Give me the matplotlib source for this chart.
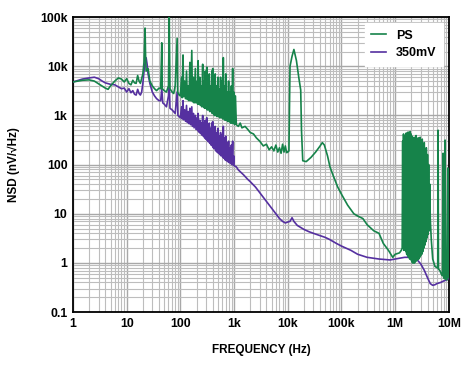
import numpy as np
import matplotlib.pyplot as plt
from matplotlib.ticker import LogLocator, FixedLocator, FixedFormatter

# PS curve, (Hz, nV/rtHz)
ps_points = [
    (1, 4800), (1.5, 5200), (2, 5300), (2.5, 5000), (3, 4400), (4, 3600), (4.5, 3400),
    (5, 4000), (6, 5000), (7, 5800), (8, 5500), (9, 4800), (10, 5600), (11, 4500),
    (12, 4200), (13, 5200), (14, 4600), (15, 4500), (16, 6500), (17, 5000), (18, 4500),
    (20, 7000), (21, 12000), (22, 60000), (22.5, 15000), (23, 8000), (25, 9000),
    (27, 5000), (30, 4000), (33, 3500), (36, 3200), (40, 3600), (43, 3500),
    (45, 30000), (46, 3500), (50, 3200), (55, 3000), (60, 4000), (62, 100000),
    (64, 3500), (70, 3000), (75, 2800), (80, 4000), (87, 37000), (89, 3000),
    (95, 2600),
    (100, 2500), (105, 6000), (108, 2300), (112, 17000), (115, 2400), (120, 5000),
    (125, 2200), (130, 8000), (135, 2100), (140, 4000), (145, 2000), (150, 12000),
    (155, 2000), (163, 21000), (168, 1900), (175, 6000), (180, 1800), (190, 9000),
    (195, 1800), (205, 5000), (210, 1700), (214, 13000), (220, 1700), (230, 6000),
    (236, 1600), (245, 4000), (250, 1500), (260, 11000), (266, 1500), (275, 5000),
    (282, 1400), (290, 8000), (296, 1400), (310, 9600), (316, 1300), (325, 6000),
    (332, 1300), (345, 7000), (352, 1200), (365, 4000), (372, 1200), (385, 8000),
    (392, 1100), (400, 9000), (410, 1100), (420, 5000), (430, 1000), (445, 7000),
    (455, 1000), (470, 4000), (480, 950), (500, 6000), (510, 950), (530, 3500),
    (540, 900), (560, 6000), (575, 900), (600, 5000), (615, 850), (630, 15000),
    (645, 850), (665, 4000), (680, 800), (700, 7000), (720, 800), (745, 3000),
    (760, 750), (790, 5000), (810, 750), (840, 3000), (860, 700), (890, 4000),
    (910, 700), (940, 9000), (960, 700), (990, 3000), (1020, 650), (1060, 2500),
    (1100, 650),
    (1200, 600), (1300, 700), (1400, 560), (1600, 600), (1800, 520), (2000, 450),
    (2300, 420), (2600, 350), (3000, 300), (3500, 240), (4000, 260), (4500, 200),
    (5000, 230), (5500, 190), (6000, 250), (6500, 180), (7000, 220), (7500, 170),
    (8000, 260), (8500, 180), (9000, 240), (9500, 175), (10000, 180), (10500, 190),
    (11000, 10000), (12000, 16000), (13000, 22000), (14500, 13000), (16000, 6000),
    (17400, 3300), (18000, 500), (19000, 120), (22000, 115), (27000, 140),
    (33000, 180), (40000, 240), (44000, 280), (48000, 250), (55000, 150),
    (61000, 90), (70000, 60), (85000, 35), (100e3, 25), (130e3, 15), (170e3, 10),
    (200e3, 9), (250e3, 8), (300e3, 6), (400e3, 4.5), (500e3, 4), (600e3, 2.5),
    (750e3, 1.8), (900e3, 1.3), (1.0e6, 1.5), (1.2e6, 1.6), (1.3e6, 1.8),
    (1.35e6, 2),
    (1.38e6, 300), (1.40e6, 2), (1.43e6, 420), (1.46e6, 1.8), (1.49e6, 380),
    (1.52e6, 2), (1.55e6, 150), (1.58e6, 1.7), (1.61e6, 440), (1.64e6, 1.5),
    (1.67e6, 350), (1.71e6, 1.4), (1.74e6, 460), (1.78e6, 1.3), (1.82e6, 400),
    (1.86e6, 1.2), (1.90e6, 470), (1.94e6, 1.2), (1.98e6, 420), (2.02e6, 1.1),
    (2.06e6, 380), (2.10e6, 1.0), (2.15e6, 330), (2.20e6, 1.0), (2.25e6, 360),
    (2.30e6, 1.0), (2.35e6, 300), (2.40e6, 1.1), (2.45e6, 390), (2.50e6, 1.1),
    (2.56e6, 280), (2.62e6, 1.2), (2.68e6, 350), (2.74e6, 1.2), (2.80e6, 300),
    (2.86e6, 1.3), (2.92e6, 360), (2.98e6, 1.4), (3.05e6, 260), (3.12e6, 1.5),
    (3.19e6, 330), (3.26e6, 1.7), (3.33e6, 230), (3.40e6, 2.0), (3.48e6, 280),
    (3.56e6, 2.3), (3.64e6, 200), (3.72e6, 2.7), (3.80e6, 220), (3.90e6, 3.2),
    (4.00e6, 160), (4.10e6, 3.8), (4.20e6, 100), (4.30e6, 4.5), (4.40e6, 40),
    (4.5e6, 8), (4.7e6, 3), (5.0e6, 1.2), (5.5e6, 0.85), (6.0e6, 0.8),
    (6.2e6, 0.8), (6.3e6, 500), (6.4e6, 0.75), (6.8e6, 0.7), (7.2e6, 0.6),
    (7.6e6, 0.55), (7.8e6, 170), (8.0e6, 0.5), (8.3e6, 0.48), (8.5e6, 315),
    (8.7e6, 0.47), (9.2e6, 0.45), (9.6e6, 85), (9.8e6, 0.5), (10e6, 0.55),
]

# 350mV curve
mv_points = [
    (1, 4800), (1.5, 5500), (2, 5800), (2.5, 6000), (3, 5600), (3.5, 5000), (4, 4600),
    (5, 4300), (6, 4200), (7, 3800), (8, 3500), (9, 3600), (10, 3000), (11, 3500),
    (12, 2900), (13, 3200), (14, 2700), (15, 2600), (16, 3400), (17, 2800),
    (18, 2600), (19, 3000), (20, 4500), (21, 8000), (22, 12000), (23, 15000),
    (24, 11000), (25, 7000), (27, 4500), (30, 3000), (33, 2500), (36, 2200),
    (40, 2000), (43, 2000), (45, 3500), (47, 1800), (50, 1700), (55, 1500),
    (60, 2500), (62, 5000), (64, 1400), (70, 1300), (80, 1100), (87, 3000),
    (90, 1000),
    (100, 900), (105, 1500), (108, 850), (112, 2000), (115, 820), (120, 1300),
    (125, 760), (130, 1600), (135, 720), (140, 1200), (145, 680), (150, 1400),
    (155, 650), (163, 1500), (168, 600), (175, 1100), (180, 560), (190, 1000),
    (195, 520), (205, 900), (210, 490), (214, 1100), (220, 460), (230, 800),
    (236, 430), (245, 700), (250, 400), (260, 1000), (266, 380), (275, 700),
    (282, 350), (290, 800), (296, 330), (310, 900), (316, 310), (325, 650),
    (332, 290), (345, 700), (352, 270), (365, 550), (372, 250), (385, 700),
    (392, 240), (400, 750), (410, 220), (420, 500), (430, 210), (445, 600),
    (455, 190), (470, 450), (480, 180), (500, 550), (510, 170), (530, 380),
    (540, 160), (560, 450), (575, 150), (600, 400), (615, 140), (630, 600),
    (645, 135), (665, 350), (680, 125), (700, 380), (720, 120), (745, 280),
    (760, 115), (790, 300), (810, 110), (840, 220), (860, 105), (890, 250),
    (910, 100), (940, 300), (960, 98), (990, 150), (1000, 95),
    (1100, 90), (1200, 78), (1500, 62), (1800, 50), (2000, 45), (2500, 35),
    (3000, 27), (4000, 18), (5000, 13), (6000, 10), (7000, 8), (8000, 7),
    (9000, 6.5), (10000, 6.8), (11000, 7), (12000, 8.3), (13000, 7), (15000, 5.8),
    (20000, 4.8), (25000, 4.3), (30000, 4.0), (40000, 3.6), (50000, 3.3),
    (60000, 3.0), (80000, 2.5), (100e3, 2.2), (150e3, 1.8), (200e3, 1.5),
    (300e3, 1.3), (500e3, 1.2), (800e3, 1.15), (1e6, 1.2), (1.5e6, 1.3),
    (2e6, 1.3), (2.5e6, 1.2), (3e6, 0.95), (3.5e6, 0.7), (4e6, 0.5), (4.5e6, 0.38),
    (5e6, 0.35), (5.5e6, 0.36), (6e6, 0.38), (7e6, 0.4), (8e6, 0.43), (9e6, 0.45),
    (10e6, 0.48),
]

ps_freq, ps_nsd = zip(*ps_points)
mv_freq, mv_nsd = zip(*mv_points)

x_ticks = [1, 10, 100, 1e3, 1e4, 1e5, 1e6, 1e7]
x_labels = ["1", "10", "100", "1k", "10k", "100k", "1M", "10M"]
y_ticks = [0.1, 1, 10, 100, 1e3, 1e4, 1e5]
y_labels = ["0.1", "1", "10", "100", "1k", "10k", "100k"]

green = "#16834a"
purple = "#5530a0"

plt.rcParams["font.family"] = ["Liberation Sans", "DejaVu Sans"]
plt.rcParams["font.weight"] = "bold"

fig = plt.figure(figsize=(4.74, 3.65), dpi=100)
ax = fig.add_axes([0.154, 0.145, 0.793, 0.808])

ax.plot(mv_freq, mv_nsd, color=purple, lw=1.2, label="350mV", zorder=3)
ax.plot(ps_freq, ps_nsd, color=green, lw=1.2, label="PS", zorder=4)

ax.set_xscale("log")
ax.set_yscale("log")
ax.set_xlim(1, 1e7)
ax.set_ylim(0.1, 1e5)

ax.xaxis.set_major_locator(FixedLocator(x_ticks))
ax.xaxis.set_major_formatter(FixedFormatter(x_labels))
ax.yaxis.set_major_locator(FixedLocator(y_ticks))
ax.yaxis.set_major_formatter(FixedFormatter(y_labels))
ax.xaxis.set_minor_locator(LogLocator(base=10, subs=np.arange(2, 10), numticks=20))
ax.yaxis.set_minor_locator(LogLocator(base=10, subs=np.arange(2, 10), numticks=20))
ax.tick_params(which="both", length=0)
ax.tick_params(labelsize=8.8, pad=4)

ax.grid(which="major", color="#a8a8a8", lw=1.0)
ax.grid(which="minor", color="#bdbdbd", lw=0.8)
ax.set_axisbelow(True)
for s in ax.spines.values():
    s.set_linewidth(1.3)

ax.set_xlabel("FREQUENCY (Hz)", fontsize=8.5, fontweight="bold", labelpad=10)
ax.set_ylabel("NSD (nV/√Hz)", fontsize=8.5, fontweight="bold", labelpad=14)

handles, labels = ax.get_legend_handles_labels()
leg = ax.legend(handles[::-1], labels[::-1], loc="upper right", fontsize=9,
                frameon=True, fancybox=False, handlelength=1.2,
                borderaxespad=0.5, labelspacing=0.45, borderpad=0.5)
leg.get_frame().set_edgecolor("white")
leg.get_frame().set_alpha(1.0)
for t in leg.get_texts():
    t.set_fontweight("bold")

fig.savefig("out.png", dpi=100)
